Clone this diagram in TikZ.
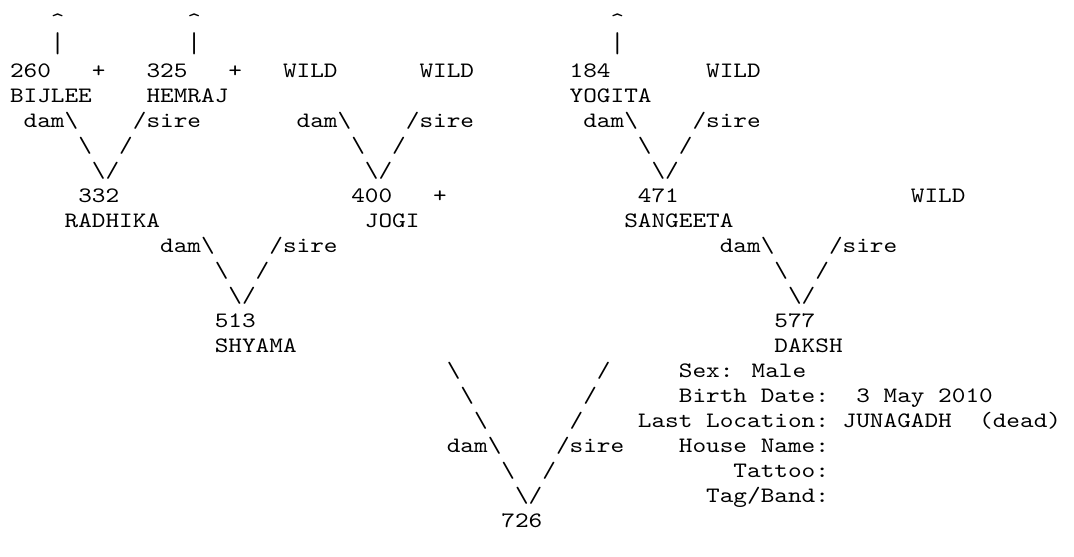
\documentclass[tikz,border=0pt]{standalone}
\usepackage{fontspec}
\usepackage{tikz}
\newfontfamily\pedfont{lmmono10-regular.otf}[FakeStretch=1.1818]
\tikzset{
  txt/.style={anchor=base west, inner sep=0pt, outer sep=0pt,
    font=\pedfont\fontsize{22pt}{25pt}\selectfont},
  lnk/.style={txt},
  info/.style={txt},
}
\newcommand{\bs}{\textbackslash}

\begin{document}
\begin{tikzpicture}[x=13.65pt, y=-25pt]
  \useasboundingbox (-10pt,27.5pt) rectangle (1064pt,-529.5pt);
  \fill[white] (-10pt,27.5pt) rectangle (1064pt,-529.5pt);

  % arrows to older ancestors
  \node[lnk] (up1) at (3,0) {\textasciicircum};
  \node[lnk] (up2) at (13,0) {\textasciicircum};
  \node[lnk] (up3) at (44,0) {\textasciicircum};
  \node[lnk] (bar1) at (3,1) {\scalebox{1}[1.3]{|}};
  \node[lnk] (bar2) at (13,1) {\scalebox{1}[1.3]{|}};
  \node[lnk] (bar3) at (44,1) {\scalebox{1}[1.3]{|}};

  % generation 1
  \node[txt] (n260) at (0,2) {260};
  \node[txt] (plus1) at (6,2) {+};
  \node[txt] (n325) at (10,2) {325};
  \node[txt] (plus2) at (16,2) {+};
  \node[txt] (wild1) at (20,2) {WILD};
  \node[txt] (wild2) at (30,2) {WILD};
  \node[txt] (n184) at (41,2) {184};
  \node[txt] (wild3) at (51,2) {WILD};
  \node[txt] (bijlee) at (0,3) {BIJLEE};
  \node[txt] (hemraj) at (10,3) {HEMRAJ};
  \node[txt] (yogita) at (41,3) {YOGITA};

  \node[lnk] (dam1) at (1,4) {dam\bs};
  \node[lnk] (sire1) at (9,4) {/sire};
  \node[lnk] (dam2) at (21,4) {dam\bs};
  \node[lnk] (sire2) at (29,4) {/sire};
  \node[lnk] (dam3) at (42,4) {dam\bs};
  \node[lnk] (sire3) at (50,4) {/sire};
  \node[lnk] (l1a) at (5,5) {\bs};
  \node[lnk] (r1a) at (8,5) {/};
  \node[lnk] (l2a) at (25,5) {\bs};
  \node[lnk] (r2a) at (28,5) {/};
  \node[lnk] (l3a) at (46,5) {\bs};
  \node[lnk] (r3a) at (49,5) {/};
  \node[lnk] (v1) at (6,6) {\bs/};
  \node[lnk] (v2) at (26,6) {\bs/};
  \node[lnk] (v3) at (47,6) {\bs/};

  % generation 2
  \node[txt] (n332) at (5,7) {332};
  \node[txt] (n400) at (25,7) {400};
  \node[txt] (plus3) at (31,7) {+};
  \node[txt] (n471) at (46,7) {471};
  \node[txt] (wild4) at (66,7) {WILD};
  \node[txt] (radhika) at (4,8) {RADHIKA};
  \node[txt] (jogi) at (26,8) {JOGI};
  \node[txt] (sangeeta) at (45,8) {SANGEETA};

  \node[lnk] (dam4) at (11,9) {dam\bs};
  \node[lnk] (sire4) at (19,9) {/sire};
  \node[lnk] (dam5) at (52,9) {dam\bs};
  \node[lnk] (sire5) at (60,9) {/sire};
  \node[lnk] (l4a) at (15,10) {\bs};
  \node[lnk] (r4a) at (18,10) {/};
  \node[lnk] (l5a) at (56,10) {\bs};
  \node[lnk] (r5a) at (59,10) {/};
  \node[lnk] (v4) at (16,11) {\bs/};
  \node[lnk] (v5) at (57,11) {\bs/};

  % generation 3
  \node[txt] (n513) at (15,12) {513};
  \node[txt] (n577) at (56,12) {577};
  \node[txt] (shyama) at (15,13) {SHYAMA};
  \node[txt] (daksh) at (56,13) {DAKSH};

  \node[lnk] (l6a) at (32,14) {\bs};
  \node[lnk] (r6a) at (43,14) {/};
  \node[lnk] (l6b) at (33,15) {\bs};
  \node[lnk] (r6b) at (42,15) {/};
  \node[lnk] (l6c) at (34,16) {\bs};
  \node[lnk] (r6c) at (41,16) {/};
  \node[lnk] (dam6) at (32,17) {dam\bs};
  \node[lnk] (sire6) at (40,17) {/sire};
  \node[lnk] (l6d) at (36,18) {\bs};
  \node[lnk] (r6d) at (39,18) {/};
  \node[lnk] (v6) at (37,19) {\bs/};
  \node[txt] (n726) at (36,20) {726};

  % details of the sire
  \node[info] (sex) at (49,14) {Sex: Male};
  \node[info] (birth) at (49,15) {Birth Date:};
  \node[info] (bdate) at (62,15) {3 May 2010};
  \node[info] (last) at (46,16) {Last Location:};
  \node[info] (place) at (61,16) {JUNAGADH};
  \node[info] (dead) at (71,16) {(dead)};
  \node[info] (house) at (49,17) {House Name:};
  \node[info] (tattoo) at (53,18) {Tattoo:};
  \node[info] (tag) at (51,19) {Tag/Band:};
\end{tikzpicture}
\end{document}
